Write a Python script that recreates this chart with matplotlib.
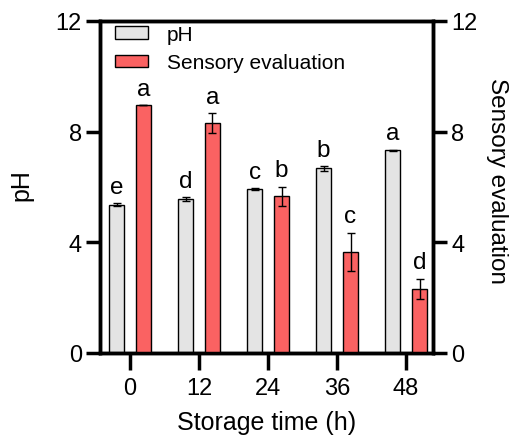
import matplotlib
matplotlib.use("Agg")
import matplotlib.pyplot as plt
import numpy as np

plt.rcParams['font.family'] = ['Liberation Sans', 'DejaVu Sans']

times = ["0", "12", "24", "36", "48"]
ph = [5.36, 5.57, 5.92, 6.67, 7.32]
ph_err = [0.05, 0.06, 0.03, 0.08, 0.03]
ph_letters = ["e", "d", "c", "b", "a"]
sens = [8.95, 8.31, 5.66, 3.65, 2.31]
sens_err = [0.0, 0.35, 0.35, 0.69, 0.37]
sens_letters = ["a", "a", "b", "c", "d"]

fig = plt.figure(figsize=(5.12, 4.39), dpi=100)
ax = fig.add_axes([100/512, 1-354/439, 333/512, 332/439])
ax2 = ax.twinx()

x = np.arange(len(times))
w = 0.215
off = 0.195
gray = "#e4e4e4"
red = "#fa6262"

ax.bar(x - off, ph, w, color=gray, edgecolor="black", linewidth=1.0, label="pH", zorder=2)
ax.errorbar(x - off, ph, yerr=ph_err, fmt="none", ecolor="black", elinewidth=1.0, capsize=3, capthick=1.0, zorder=3)
ax2.bar(x + off, sens, w, color=red, edgecolor="black", linewidth=1.0, label="Sensory evaluation", zorder=2)
ax2.errorbar(x + off, sens, yerr=sens_err, fmt="none", ecolor="black", elinewidth=1.0, capsize=3, capthick=1.0, zorder=3)

for xi, v, e, t in zip(x - off, ph, ph_err, ph_letters):
    ax.text(xi, v + e + 0.2, t, ha="center", va="bottom", fontsize=17.5)
for xi, v, e, t in zip(x + off, sens, sens_err, sens_letters):
    ax2.text(xi, v + e + 0.2, t, ha="center", va="bottom", fontsize=17.5)

for a in (ax, ax2):
    a.set_ylim(0, 12)
    a.set_yticks([0, 4, 8, 12])
    a.set_xlim(-0.435, 4.39)
    for s in a.spines.values():
        s.set_linewidth(2.5)
    a.tick_params(width=2.5, length=10, labelsize=17, direction="out", pad=3)

ax.set_xticks(x)
ax.set_xticklabels(times)
ax.tick_params(axis="x", length=12, pad=5)
ax.set_ylabel("pH", fontsize=18)
ax2.set_ylabel("Sensory evaluation", fontsize=17.5, rotation=270)
ax.set_xlabel("Storage time (h)", fontsize=18)
for lab in (ax.yaxis.label, ax2.yaxis.label, ax.xaxis.label):
    lab.set_ha("center")
    lab.set_va("center")
ax.yaxis.set_label_coords(-0.235, 0.51)
ax2.yaxis.set_label_coords(1.192, 0.52)
ax.xaxis.set_label_coords(0.5, -0.208)

h1, l1 = ax.get_legend_handles_labels()
h2, l2 = ax2.get_legend_handles_labels()
leg = ax2.legend(h1 + h2, l1 + l2, loc="upper left", frameon=False, fontsize=15,
                 bbox_to_anchor=(-0.012, 1.045), handlelength=1.6, handleheight=0.55,
                 handletextpad=0.9, labelspacing=0.45)

fig.savefig("out.png", dpi=100)
